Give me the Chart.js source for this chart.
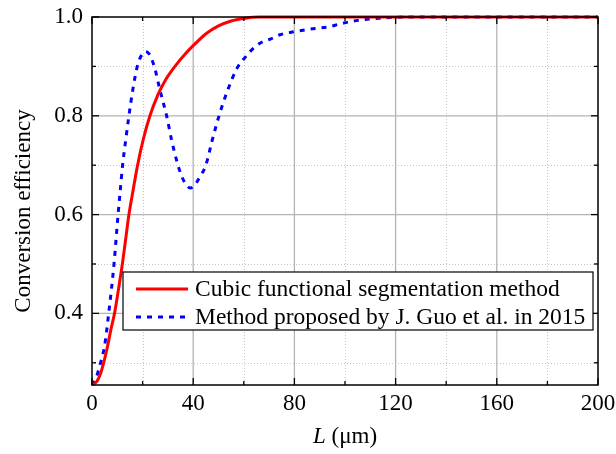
<!DOCTYPE html>
<html><head><meta charset="utf-8">
<script src="https://cdn.jsdelivr.net/npm/chart.js@4/dist/chart.umd.min.js"></script>
<style>html,body{margin:0;padding:0;background:#fff}canvas{display:block}</style>
</head><body>
<canvas id="c" width="616" height="454"></canvas>
<script>
const seriesNames = ['Cubic functional segmentation method', 'Method proposed by J. Guo et al. in 2015'];
const cubicL   = [0, 2, 3.5, 4.6, 6, 7.5, 8.9, 10.5, 12, 13.3, 14.6, 16.2, 17.9, 20.3, 22.9, 26, 29, 32.8, 37, 41, 45.3, 50, 55, 60, 66, 80, 120, 160, 200];
const cubicEff = [0.255, 0.263, 0.28, 0.30, 0.33, 0.368, 0.40, 0.45, 0.50, 0.55, 0.60, 0.648, 0.697, 0.753, 0.80, 0.842, 0.872, 0.90, 0.926, 0.947, 0.967, 0.982, 0.992, 0.997, 1.0, 1.0, 1.0, 1.0, 1.0];
const guoL   = [0, 1.5, 3.4, 5, 6.6, 8.7, 10.3, 11.1, 12.1, 13.3, 14.6, 16.2, 17.9, 19.3, 21, 22.5, 23.8, 24.9, 26.5, 28, 29.5, 31.5, 33.7, 35.5, 37.2, 38.8, 40.5, 42.5, 45, 47.5, 50.2, 53.5, 57.4, 60, 62.5, 66.4, 70.4, 74.3, 79.6, 84.2, 88.8, 93.4, 98, 102.6, 107.9, 112.5, 118, 125, 160, 200];
const guoEff = [0.255, 0.268, 0.30, 0.335, 0.40, 0.50, 0.60, 0.645, 0.70, 0.75, 0.80, 0.855, 0.90, 0.92, 0.93, 0.926, 0.912, 0.895, 0.86, 0.83, 0.80, 0.75, 0.705, 0.677, 0.661, 0.654, 0.659, 0.675, 0.70, 0.75, 0.80, 0.85, 0.897, 0.915, 0.93, 0.947, 0.955, 0.964, 0.970, 0.974, 0.977, 0.980, 0.986, 0.991, 0.995, 0.997, 0.999, 1.0, 1.0, 1.0];
const xTickValues  = [0, 40, 80, 120, 160, 200];
const xMinorValues = [20, 60, 100, 140, 180];
const yTickValues  = [0.4, 0.6, 0.8, 1.0];
const yMinorValues = [0.3, 0.5, 0.7, 0.9];
const xTitleItalic = 'L';
const xTitleRest = ' (μm)';
const yTitle = 'Conversion efficiency';
const FONT = '"Liberation Serif","Times New Roman",serif';

function seg(ctx, x1, y1, x2, y2) { ctx.beginPath(); ctx.moveTo(x1, y1); ctx.lineTo(x2, y2); ctx.stroke(); }

const framePlugin = {
  id: 'frame',
  beforeDatasetsDraw(chart) {
    const { ctx, chartArea: a, scales: { x, y } } = chart;
    ctx.save();
    ctx.lineWidth = 1;
    ctx.strokeStyle = '#c6c6c6';
    ctx.setLineDash([1, 2]);
    xMinorValues.forEach(v => { const p = Math.round(x.getPixelForValue(v)) + 0.5; seg(ctx, p, a.top, p, a.bottom); });
    yMinorValues.forEach(v => { const p = Math.round(y.getPixelForValue(v)) + 0.5; seg(ctx, a.left, p, a.right, p); });
    ctx.setLineDash([]);
    ctx.strokeStyle = '#b4b4b4';
    ctx.lineWidth = 1.3;
    xTickValues.forEach(v => { if (v > x.min && v < x.max) { const p = x.getPixelForValue(v); seg(ctx, p, a.top, p, a.bottom); } });
    yTickValues.forEach(v => { if (v > y.min && v < y.max) { const p = y.getPixelForValue(v); seg(ctx, a.left, p, a.right, p); } });
    ctx.restore();
  },
  afterDatasetsDraw(chart) {
    const { ctx, chartArea: a, scales: { x, y } } = chart;
    ctx.save();
    ctx.strokeStyle = '#000';
    ctx.lineWidth = 1.5;
    ctx.strokeRect(a.left, a.top, a.right - a.left, a.bottom - a.top);
    ctx.lineWidth = 1.3;
    const maj = 7, min = 4;
    xTickValues.forEach(v => { const p = x.getPixelForValue(v); seg(ctx, p, a.bottom, p, a.bottom - maj); seg(ctx, p, a.top, p, a.top + maj); });
    xMinorValues.forEach(v => { const p = x.getPixelForValue(v); seg(ctx, p, a.bottom, p, a.bottom - min); seg(ctx, p, a.top, p, a.top + min); });
    yTickValues.forEach(v => { const p = y.getPixelForValue(v); seg(ctx, a.left, p, a.left + maj, p); seg(ctx, a.right, p, a.right - maj, p); });
    yMinorValues.forEach(v => { const p = y.getPixelForValue(v); seg(ctx, a.left, p, a.left + min, p); seg(ctx, a.right, p, a.right - min, p); });
    ctx.restore();
  },
  afterDraw(chart) {
    const { ctx, chartArea: a } = chart;
    ctx.save();
    // legend
    const lx = a.left + 31, ly = a.top + 255, lw = a.right - 5 - lx, lh = 58;
    ctx.fillStyle = '#fff';
    ctx.fillRect(lx, ly, lw, lh);
    ctx.strokeStyle = '#000';
    ctx.lineWidth = 1.2;
    ctx.strokeRect(lx, ly, lw, lh);
    ctx.font = '23.5px ' + FONT;
    ctx.textBaseline = 'middle';
    ctx.textAlign = 'left';
    chart.data.datasets.forEach((ds, i) => {
      const cy = ly + 17 + i * 28;
      ctx.strokeStyle = ds.borderColor;
      ctx.lineWidth = ds.borderWidth;
      ctx.setLineDash(ds.borderDash || []);
      seg(ctx, lx + 13, cy, lx + 65, cy);
      ctx.setLineDash([]);
      ctx.fillStyle = '#000';
      ctx.fillText(ds.label, lx + 72, cy + 1);
    });
    // x title
    ctx.textBaseline = 'alphabetic';
    ctx.fillStyle = '#000';
    const fi = 'italic 23px ' + FONT, fn = '23px ' + FONT;
    ctx.font = fi; const w1 = ctx.measureText(xTitleItalic).width;
    ctx.font = fn; const w2 = ctx.measureText(xTitleRest).width;
    let sx = (a.left + a.right) / 2 - (w1 + w2) / 2;
    ctx.font = fi; ctx.fillText(xTitleItalic, sx, 443);
    ctx.font = fn; ctx.fillText(xTitleRest, sx + w1, 443);
    // y title
    ctx.translate(24, (a.top + a.bottom) / 2 + 10);
    ctx.rotate(-Math.PI / 2);
    ctx.textAlign = 'center';
    ctx.textBaseline = 'middle';
    ctx.font = fn;
    ctx.fillText(yTitle, 0, 0);
    ctx.restore();
  }
};

new Chart(document.getElementById('c'), {
  type: 'line',
  data: {
    datasets: [
      { label: seriesNames[0], data: cubicL.map((l, i) => ({ x: l, y: cubicEff[i] })), borderColor: '#ff0000', borderWidth: 3, pointRadius: 0, cubicInterpolationMode: 'monotone', clip: 6 },
      { label: seriesNames[1], data: guoL.map((l, i) => ({ x: l, y: guoEff[i] })), borderColor: '#0000ff', borderWidth: 3, borderDash: [5, 6], borderCapStyle: 'butt', pointRadius: 0, cubicInterpolationMode: 'monotone', clip: 6 }
    ]
  },
  options: {
    responsive: false, animation: false, devicePixelRatio: 1,
    layout: { padding: { left: 0, right: 18, top: 17, bottom: 0 } },
    plugins: { legend: { display: false }, tooltip: { enabled: false } },
    scales: {
      x: {
        type: 'linear', min: 0, max: 200,
        afterBuildTicks: s => { s.ticks = xTickValues.map(v => ({ value: v })); },
        afterFit: s => { s.height = 69; s.paddingLeft = 0; s.paddingRight = 0; },
        grid: { display: false, drawTicks: false }, border: { display: false },
        ticks: { font: { family: FONT, size: 23 }, color: '#000', padding: 5, maxRotation: 0, autoSkip: false }
      },
      y: {
        type: 'linear', min: 0.255, max: 1.0,
        afterBuildTicks: s => { s.ticks = yTickValues.map(v => ({ value: v })); },
        afterFit: s => { s.width = 92; s.paddingTop = 0; s.paddingBottom = 0; },
        grid: { display: false, drawTicks: false }, border: { display: false },
        ticks: { font: { family: FONT, size: 23 }, color: '#000', padding: 9, autoSkip: false, callback: v => Number(v).toFixed(1) }
      }
    }
  },
  plugins: [framePlugin]
});
</script>
</body></html>
